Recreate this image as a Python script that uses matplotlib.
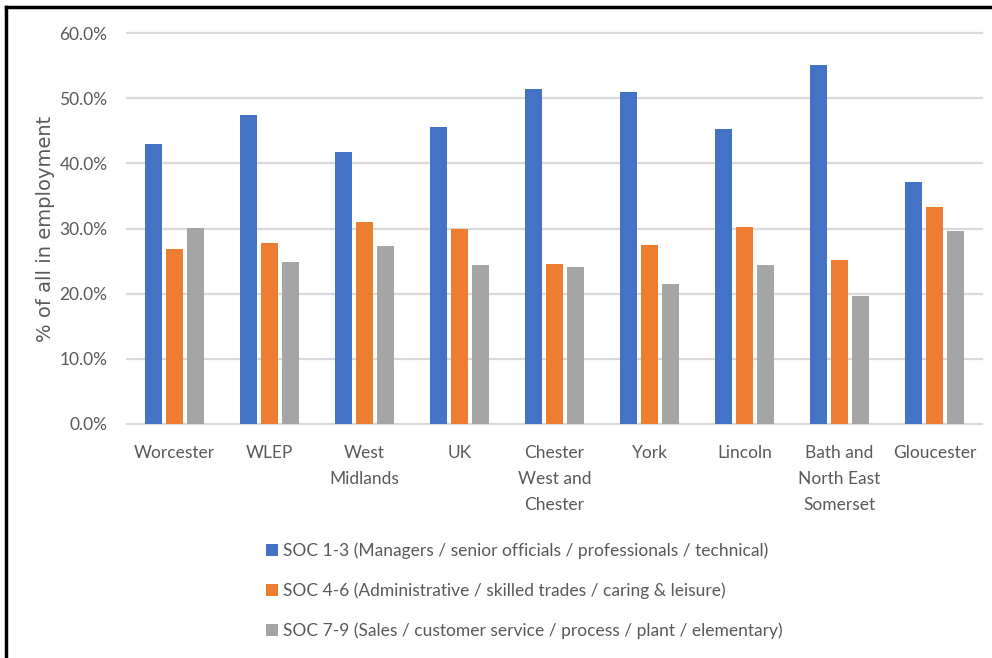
import matplotlib
matplotlib.use("Agg")
import matplotlib.pyplot as plt
import numpy as np
from matplotlib.lines import Line2D
from matplotlib.patches import Patch

plt.rcParams['font.family'] = ['Lato', 'DejaVu Sans']

categories = ["Worcester", "WLEP", "West\nMidlands", "UK", "Chester\nWest and\nChester",
              "York", "Lincoln", "Bath and\nNorth East\nSomerset", "Gloucester"]
soc_1_3 = [43.0, 47.4, 41.7, 45.5, 51.4, 50.9, 45.2, 55.1, 37.1]
soc_4_6 = [26.8, 27.7, 31.0, 30.0, 24.6, 27.5, 30.3, 25.1, 33.3]
soc_7_9 = [30.1, 24.9, 27.3, 24.4, 24.1, 21.5, 24.4, 19.7, 29.6]
series_names = [
    "SOC 1-3 (Managers / senior officials / professionals / technical)",
    "SOC 4-6 (Administrative / skilled trades / caring & leisure)",
    "SOC 7-9 (Sales / customer service / process / plant / elementary)",
]
colors = ["#4472C4", "#ED7D31", "#A5A5A5"]
yticks = [0, 10, 20, 30, 40, 50, 60]

fig = plt.figure(figsize=(9.92, 6.58), dpi=100)
ax = fig.add_axes([127 / 992, 1 - 424 / 658, (982 - 127) / 992, (424 - 33) / 658])

x = np.arange(len(categories))
offsets = [-0.221, 0.0, 0.221]
for vals, off, c in zip([soc_1_3, soc_4_6, soc_7_9], offsets, colors):
    ax.bar(x + off, vals, width=0.175, color=c, zorder=3)

ax.set_xlim(-0.5, len(categories) - 0.5)
ax.set_ylim(0, 60)
ax.set_yticks(yticks)
ax.set_yticklabels([f"{v:.1f}%" for v in yticks], fontsize=12.5, color="#595959")
ax.set_xticks(x)
ax.set_xticklabels(categories, fontsize=12.5, color="#595959", linespacing=1.78, va="top")
ax.tick_params(axis="both", length=0)
ax.tick_params(axis="y", pad=14)
ax.tick_params(axis="x", pad=15)
ax.grid(axis="y", color="#D9D9D9", linewidth=1.6, zorder=0)
for gl in ax.get_ygridlines():
    gl.set_clip_on(False)
for s in ax.spines.values():
    s.set_visible(False)

ax.set_ylabel("% of all in employment", fontsize=14, color="#595959",
              family=["DejaVu Sans"], va="center")
ax.yaxis.set_label_coords((46 - 127) / 855, 0.5)

handles = [Patch(facecolor=c, edgecolor="none") for c in colors]
fig.legend(handles, series_names, loc="upper left", bbox_to_anchor=(250 / 992, 1 - 527 / 658),
           frameon=False, fontsize=12.5, labelcolor="#595959", handlelength=0.7,
           handleheight=0.7, handletextpad=0.3, labelspacing=1.35)

# outer frame lines
fig.add_artist(Line2D([6 / 992, 1], [1 - 7 / 658, 1 - 7 / 658], color="black", linewidth=2.5))
fig.add_artist(Line2D([6 / 992, 6 / 992], [0, 1 - 7 / 658], color="black", linewidth=2.5))

fig.savefig("out.png", dpi=100)
